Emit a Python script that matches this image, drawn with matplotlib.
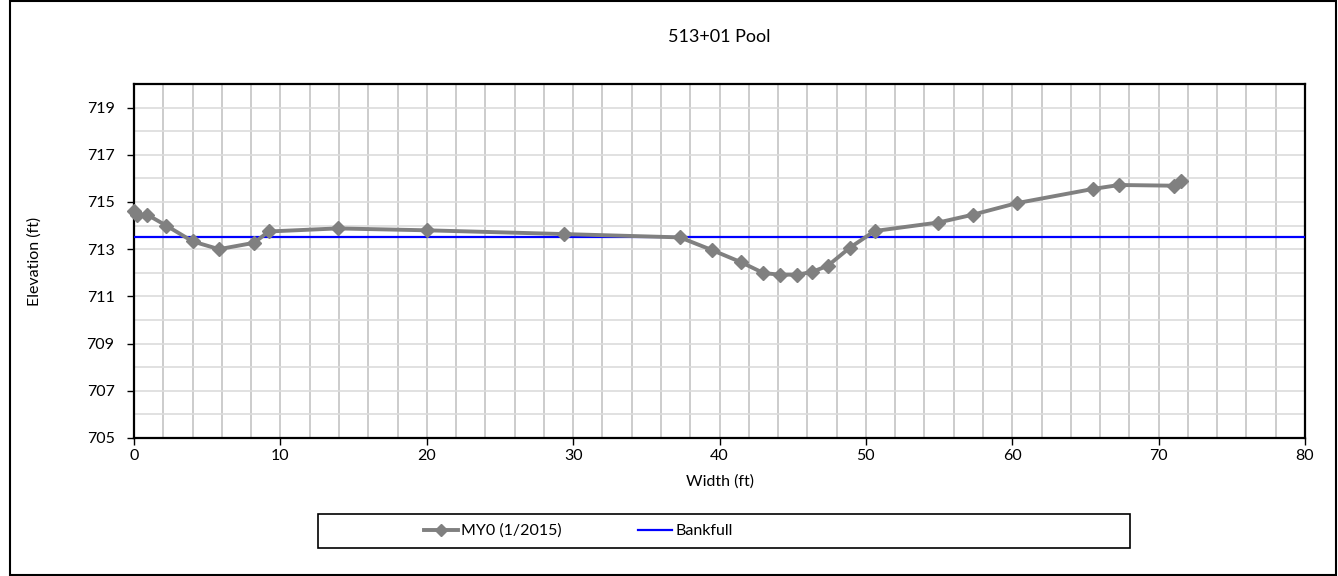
import matplotlib.pyplot as plt
from matplotlib.patches import Rectangle
from matplotlib.lines import Line2D
import numpy as np

# Datos
width_ft = [0.0, 0.2, 0.9, 2.2, 4.0, 5.8, 8.2, 9.2, 13.9, 20.0, 29.4, 37.3,
            39.5, 41.5, 43.0, 44.1, 45.3, 46.3, 47.4, 48.9, 50.6, 54.95,
            57.3, 60.3, 65.5, 67.3, 71.05, 71.5]
elev_ft = [714.63, 714.45, 714.46, 714.0, 713.33, 713.0, 713.27, 713.75,
           713.88, 713.8, 713.64, 713.5, 712.96, 712.44, 711.99, 711.92,
           711.92, 712.03, 712.3, 713.06, 713.77, 714.13, 714.46, 714.95,
           715.55, 715.72, 715.69, 715.9]
bankfull_x = [0, 80]
bankfull_y = [713.5, 713.5]

title = '513+01 Pool'
series_label = 'MY0 (1/2015)'
bankfull_label = 'Bankfull'

plt.rcParams['font.family'] = ['Lato', 'DejaVu Sans']

fig = plt.figure(figsize=(13.38, 5.76), dpi=100)
ax = fig.add_axes([0.1002, 0.2396, 0.8751, 0.6146])

# Marco exterior
fig.patches.append(Rectangle((10 / 1338, 1 / 576), 1326 / 1338, 574 / 576,
                             transform=fig.transFigure, fill=False,
                             edgecolor='black', linewidth=1.5))

# Cuadrícula
ax.set_xlim(0, 80)
ax.set_ylim(705, 720)
ax.set_xticks(np.arange(0, 81, 10))
ax.set_xticks(np.arange(0, 81, 2), minor=True)
ax.set_yticks(np.arange(705, 720, 2))
ax.set_yticks(np.arange(705, 721, 1), minor=True)
ax.grid(True, axis='x', which='both', color='#c4c4c4', linewidth=1.2)
ax.grid(True, axis='y', which='both', color='#dcdcdc', linewidth=1.2)
ax.set_axisbelow(True)
ax.tick_params(which='minor', length=0)
ax.tick_params(which='major', direction='out', length=5, width=1, labelsize=11.5)
ax.tick_params(axis='x', pad=3)
ax.tick_params(axis='y', pad=9)
for s in ax.spines.values():
    s.set_linewidth(1.6)
    s.set_color('black')

ax.plot(bankfull_x, bankfull_y, color='#0000ff', linewidth=1.6, zorder=3)
ax.plot(width_ft, elev_ft, color='#808080', linewidth=2.8, marker='D',
        markersize=7, zorder=4, clip_on=False)

ax.set_title(title, fontsize=13, pad=30)
ax.set_xlabel('Width (ft)', fontsize=11.5, labelpad=8)
ax.set_ylabel('Elevation (ft)', fontsize=11.5, labelpad=32)

# Leyenda con caja propia
fig.patches.append(Rectangle((318 / 1338, 28 / 576), 812 / 1338, 34 / 576,
                             transform=fig.transFigure, fill=False,
                             edgecolor='black', linewidth=1.2))
handles = [Line2D([], [], color='#808080', linewidth=2.8, marker='D', markersize=6),
           Line2D([], [], color='#0000ff', linewidth=1.6)]
fig.legend(handles, [series_label, bankfull_label], ncol=2, frameon=False,
           loc='center left', bbox_to_anchor=(410 / 1338, 45 / 576),
           fontsize=11.5, handlelength=2.1, handletextpad=0.2,
           columnspacing=4.8)

fig.savefig('out.png', dpi=100)
